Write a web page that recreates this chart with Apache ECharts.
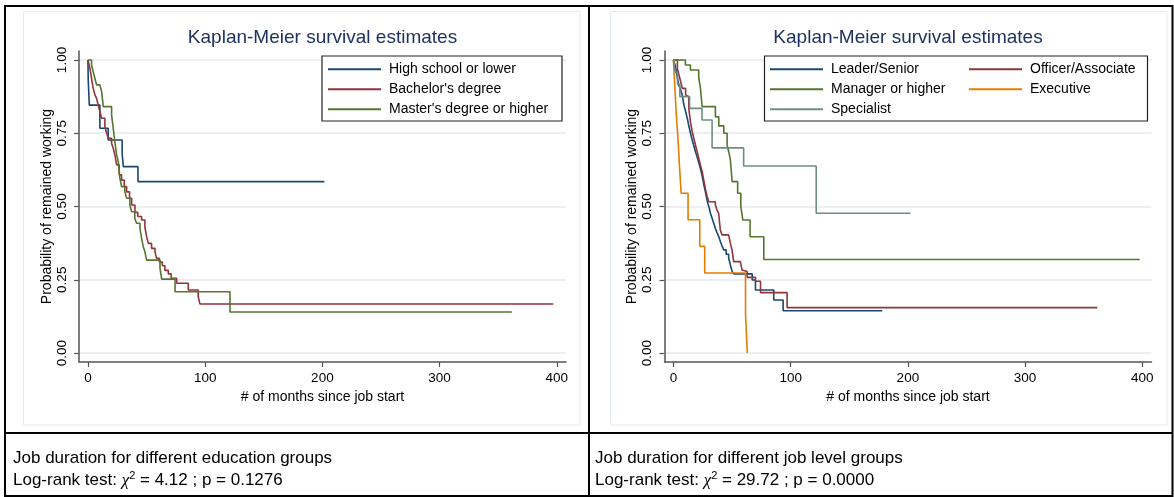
<!DOCTYPE html>
<html>
<head>
<meta charset="utf-8">
<script src="https://cdn.jsdelivr.net/npm/echarts@6/dist/echarts.min.js"></script>
<style>
  html, body { margin: 0; padding: 0; background: #fff; }
  #wrap { position: relative; width: 1174px; height: 497px; overflow: hidden; }
  #chart { position: absolute; left: 0; top: 0; width: 1174px; height: 497px; }
  .note { position: absolute; font-family: 'Liberation Sans', Arial, Helvetica, sans-serif;
          font-size: 17px; line-height: 20px; color: #000; white-space: nowrap; }
  .note i { font-family: 'Liberation Serif', 'DejaVu Serif', serif; }
  .note sup { font-size: 11px; vertical-align: 6px; line-height: 0; }
</style>
</head>
<body>
<div id="wrap">
  <div id="chart"></div>
  <div class="note" style="left:13px; top:448px;">Job duration for different education groups</div>
  <div class="note" style="left:13px; top:470px;">Log-rank test: <i>χ</i><sup>2</sup> = 4.12 ; p = 0.1276</div>
  <div class="note" style="left:595px; top:448px;">Job duration for different job level groups</div>
  <div class="note" style="left:595px; top:470px;">Log-rank test: <i>χ</i><sup>2</sup> = 29.72 ; p = 0.0000</div>
</div>
<script>
// Kaplan-Meier step estimates: months since job start and survival probability

// Education groups
const hsMonths = [0, 0.3, 1.2, 10.2, 17.3, 29.2, 30.2, 42.7, 201.7];
const hsSurv   = [1, 0.93, 0.846, 0.767, 0.727, 0.681, 0.636, 0.585, 0.585];

const baMonths = [0, 1.7, 3.1, 4.5, 6, 7.4, 8.8, 10.2, 11.7, 14.5, 16, 17.4, 20.2, 21.6, 23, 24.5, 26.7,
                  28.7, 31, 33, 35.5, 37.3, 40.1, 42.5, 45.8, 48.6, 50.1, 51.5, 54.3, 57.2, 58.6, 61, 63.5,
                  65.7, 68.6, 71, 75.7, 85.6, 94.1, 95.6, 397];
const baSurv   = [1, 0.972, 0.937, 0.903, 0.881, 0.869, 0.846, 0.824, 0.801, 0.772, 0.75, 0.733, 0.716, 0.699, 0.676, 0.642, 0.608,
                  0.59, 0.568, 0.55, 0.528, 0.505, 0.48, 0.466, 0.454, 0.43, 0.397, 0.374, 0.357, 0.345, 0.323, 0.31, 0.298,
                  0.282, 0.27, 0.255, 0.238, 0.215, 0.192, 0.167, 0.167];

const maMonths = [0, 3.1, 4.5, 6, 7.4, 10.2, 11.7, 13.1, 20.2, 21.6, 23, 24.5, 25.9, 27.3, 28.7, 31.5, 33,
                  35.8, 37.3, 40, 41.5, 44.4, 45.8, 47.2, 48.6, 50.1, 61.5, 62.9, 74.3, 121.2, 361.6];
const maSurv   = [1, 0.983, 0.96, 0.937, 0.915, 0.909, 0.892, 0.841, 0.812, 0.767, 0.721, 0.676, 0.653, 0.596, 0.568, 0.55, 0.528,
                  0.505, 0.482, 0.46, 0.443, 0.425, 0.391, 0.363, 0.346, 0.317, 0.289, 0.252, 0.209, 0.14, 0.14];

// Job level groups
const leaderMonths = [0, 1.5, 3, 4.5, 6, 7.5, 9, 10.4, 11.9, 13.3, 14.6, 16, 17.4, 18.8, 20.2, 21.6, 23, 24.5,
                      25.9, 27.3, 28.7, 30.2, 31.6, 33, 34.4, 35.8, 37.3, 38.7, 40.1, 41.5, 43, 45, 47.1, 48.6,
                      50.1, 51.5, 67.2, 70, 85.6, 93.6, 178.1];
const leaderSurv   = [1, 0.982, 0.948, 0.915, 0.9, 0.881, 0.846, 0.824, 0.8, 0.772, 0.75, 0.727, 0.708, 0.687, 0.67, 0.65, 0.63, 0.605,
                      0.575, 0.55, 0.52, 0.5, 0.477, 0.46, 0.443, 0.425, 0.41, 0.397, 0.38, 0.365, 0.352, 0.337, 0.325, 0.3,
                      0.278, 0.27, 0.249, 0.215, 0.181, 0.144, 0.144];

const officerMonths = [0, 3.4, 4.8, 6.2, 7.6, 10.4, 11.7, 13.1, 14.5, 16, 17.4, 18.8, 20.2, 21.6, 23, 24.5, 25.9,
                       27.3, 28.7, 30.2, 35.8, 37.2, 38.6, 40, 41.5, 47.1, 48.6, 50, 51.4, 57.1, 58.6, 60, 62.9,
                       70, 74.3, 97, 361.6];
const officerSurv   = [1, 0.97, 0.948, 0.926, 0.903, 0.881, 0.875, 0.835, 0.79, 0.756, 0.733, 0.71, 0.688, 0.665, 0.642, 0.619, 0.59,
                       0.56, 0.535, 0.516, 0.505, 0.488, 0.477, 0.42, 0.403, 0.397, 0.374, 0.352, 0.312, 0.306, 0.283, 0.278, 0.258,
                       0.245, 0.206, 0.155, 0.155];

const managerMonths = [0, 10.2, 14.5, 21.6, 23, 24.5, 35.8, 38.7, 43, 45.8, 47.2, 48.6, 50.1, 54.8, 57.5, 59.2,
                       65.4, 77.1, 397.7];
const managerSurv   = [1, 0.983, 0.966, 0.94, 0.906, 0.841, 0.806, 0.775, 0.75, 0.71, 0.687, 0.659, 0.585, 0.545, 0.5, 0.454,
                       0.397, 0.319, 0.319];

const execMonths = [0, 1.2, 2.4, 4, 5.2, 6.6, 12.5, 22.5, 26.7, 61.5, 63];
const execSurv   = [1, 0.909, 0.818, 0.727, 0.636, 0.545, 0.455, 0.364, 0.273, 0.136, 0];

const specMonths = [0, 1.5, 3.5, 5.5, 13.8, 24.4, 33, 59.9, 121.8, 202.3];
const specSurv   = [1, 0.958, 0.917, 0.875, 0.835, 0.795, 0.70, 0.638, 0.477, 0.477];

// Axis ticks
const monthTicks = [0, 100, 200, 300, 400];
const survTicks  = [0, 0.25, 0.5, 0.75, 1];

const FONT = "'Liberation Sans', Arial, Helvetica, sans-serif";
const AXIS_COLOR = '#555';
const GRID_COLOR = '#e3ebee';

function pairs(xs, ys) { return xs.map((x, i) => [x, ys[i]]); }

function kmSeries(name, xs, ys, color, idx) {
  return {
    name, type: 'line', step: 'end', xAxisIndex: idx, yAxisIndex: idx,
    data: pairs(xs, ys), showSymbol: false, symbol: 'none', color,
    lineStyle: { color, width: 1.6 }, emphasis: { disabled: true }
  };
}

function xAxisFor(idx) {
  return {
    type: 'value', gridIndex: idx, min: -7.6, max: 407.8,
    axisLine: { show: true, onZero: false, lineStyle: { color: AXIS_COLOR, width: 1.5 } },
    axisTick: { show: true, length: 5, customValues: monthTicks, lineStyle: { color: AXIS_COLOR, width: 1.2 } },
    axisLabel: { customValues: monthTicks, fontSize: 13.5, color: '#000', fontFamily: FONT, margin: 9 },
    splitLine: { show: false },
    name: '# of months since job start', nameLocation: 'middle', nameGap: 23,
    nameTextStyle: { fontSize: 14, color: '#000', fontFamily: FONT }
  };
}

function yAxisFor(idx) {
  return {
    type: 'value', gridIndex: idx, min: -0.0307, max: 1.0307,
    axisLine: { show: true, onZero: false, lineStyle: { color: AXIS_COLOR, width: 1.5 } },
    axisTick: { show: true, length: 5, customValues: survTicks, lineStyle: { color: AXIS_COLOR, width: 1.2 } },
    axisLabel: { customValues: survTicks, rotate: 90, fontSize: 13.5, color: '#000', fontFamily: FONT, margin: 10,
                 formatter: v => v.toFixed(2) },
    splitLine: { show: true, lineStyle: { color: GRID_COLOR, width: 1.5 } },
    name: 'Probability of remained working', nameLocation: 'middle', nameGap: 25,
    nameTextStyle: { fontSize: 14, color: '#000', fontFamily: FONT }
  };
}

function legendFor(names, left) {
  return {
    data: names, orient: 'vertical', left, top: 59.3, padding: 0, itemGap: 0,
    icon: 'rect', itemWidth: 53, itemHeight: 2, selectedMode: false,
    textStyle: { fontSize: 14, lineHeight: 20, color: '#000', fontFamily: FONT, padding: [0, 0, 0, 3] }
  };
}

const titleStyle = { fontSize: 19, fill: '#1f3263', fontFamily: FONT, align: 'center', verticalAlign: 'middle' };

const option = {
  animation: false,
  backgroundColor: '#fff',
  grid: [
    { left: 79, top: 51, width: 487, height: 311 },
    { left: 664.5, top: 51, width: 487, height: 311 }
  ],
  xAxis: [xAxisFor(0), xAxisFor(1)],
  yAxis: [yAxisFor(0), yAxisFor(1)],
  legend: [
    legendFor(['High school or lower', "Bachelor's degree", "Master's degree or higher"], 328),
    legendFor(['Leader/Senior', 'Manager or higher', 'Specialist'], 770),
    legendFor(['Officer/Associate', 'Executive'], 969)
  ],
  graphic: [
    // table frame
    { type: 'rect', z: 1, shape: { x: 5, y: 6, width: 1167.5, height: 490 },
      style: { fill: null, stroke: '#000', lineWidth: 2 } },
    { type: 'line', z: 1, shape: { x1: 589, y1: 6, x2: 589, y2: 497 }, style: { stroke: '#000', lineWidth: 2 } },
    { type: 'line', z: 1, shape: { x1: 5, y1: 433, x2: 1173, y2: 433 }, style: { stroke: '#000', lineWidth: 2 } },
    // graph regions
    { type: 'rect', z: 1, shape: { x: 23.5, y: 11.5, width: 556.5, height: 413.5 },
      style: { fill: null, stroke: '#e4ecef', lineWidth: 1 } },
    { type: 'rect', z: 1, shape: { x: 610.5, y: 11.5, width: 556.5, height: 413.5 },
      style: { fill: null, stroke: '#e4ecef', lineWidth: 1 } },
    // titles
    { type: 'text', z: 3, x: 322.5, y: 38, style: Object.assign({ text: 'Kaplan-Meier survival estimates' }, titleStyle) },
    { type: 'text', z: 3, x: 908, y: 38, style: Object.assign({ text: 'Kaplan-Meier survival estimates' }, titleStyle) },
    // legend frames
    { type: 'rect', z: 3, shape: { x: 322, y: 56, width: 240, height: 65 },
      style: { fill: '#fff', stroke: '#222', lineWidth: 1.2 } },
    { type: 'rect', z: 3, shape: { x: 764.5, y: 56, width: 383, height: 65 },
      style: { fill: '#fff', stroke: '#222', lineWidth: 1.2 } }
  ],
  series: [
    kmSeries('High school or lower', hsMonths, hsSurv, '#1a476f', 0),
    kmSeries("Bachelor's degree", baMonths, baSurv, '#90353b', 0),
    kmSeries("Master's degree or higher", maMonths, maSurv, '#55752f', 0),
    kmSeries('Leader/Senior', leaderMonths, leaderSurv, '#1a476f', 1),
    kmSeries('Officer/Associate', officerMonths, officerSurv, '#90353b', 1),
    kmSeries('Manager or higher', managerMonths, managerSurv, '#55752f', 1),
    kmSeries('Executive', execMonths, execSurv, '#e37e00', 1),
    kmSeries('Specialist', specMonths, specSurv, '#6e8e84', 1)
  ]
};

const chart = echarts.init(document.getElementById('chart'), null, { renderer: 'canvas' });
chart.setOption(option);
</script>
</body>
</html>
